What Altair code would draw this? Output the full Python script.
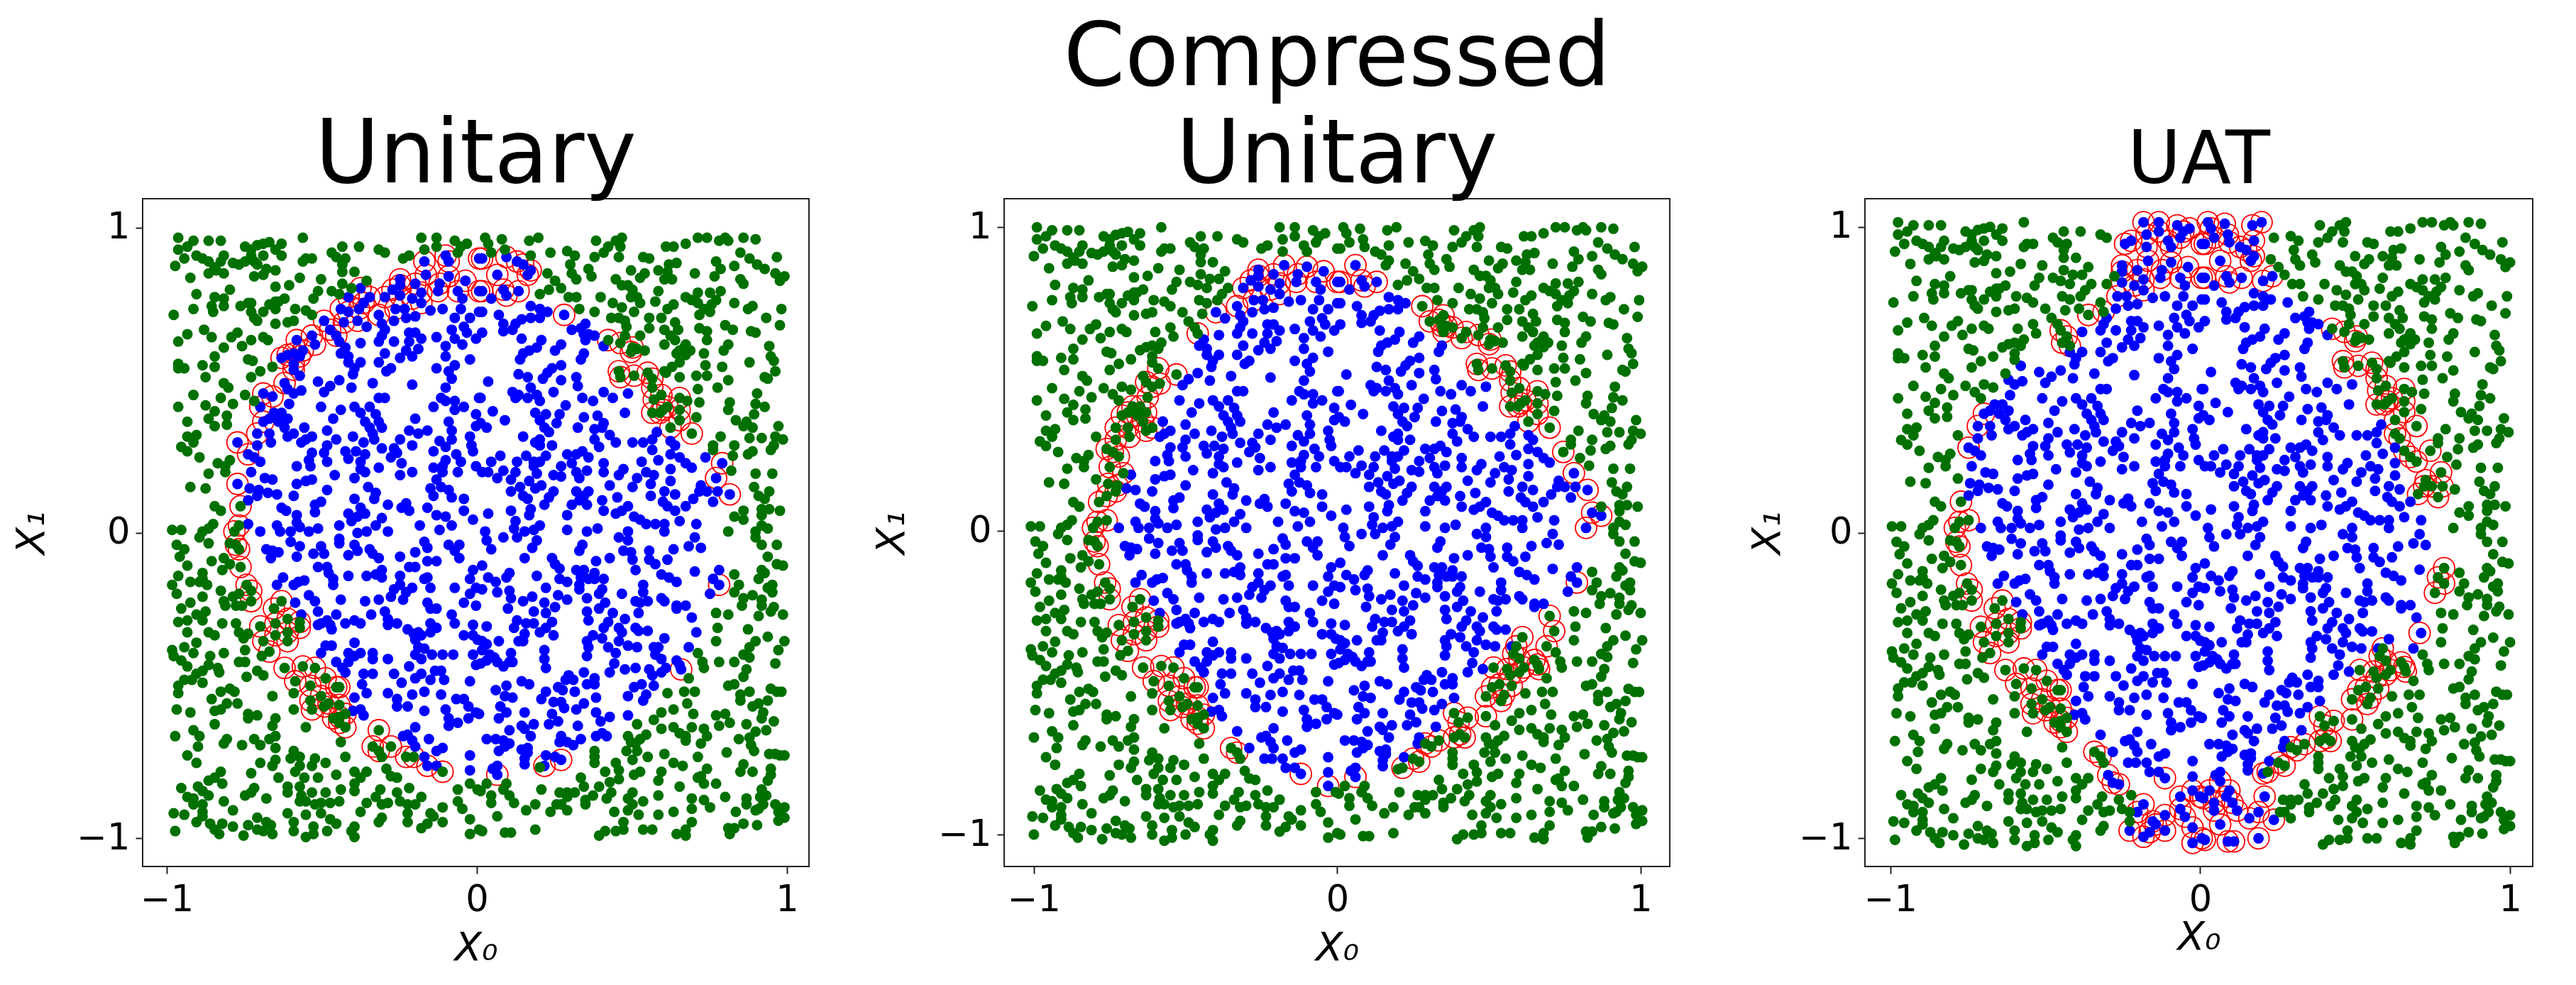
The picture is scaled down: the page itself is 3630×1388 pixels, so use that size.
import math
import altair as alt
import pandas as pd

# Point readings, in hundredths of the X0 / X1 units of the middle panel.
blue_upper_left = [(-31,80),(-40,72),(-37,70),(-32,71),(-33,74),(-28.5,82.5),(-26,86),(-26,84),(-26,80.5),(-27.5,76),(-24.5,76),(-22,79.5),(-21,84.5),(-19,81.5),(-17.5,87.5),(-10,87),(-13,84.5),(-13.5,82),(-7,82),(-4.5,85.5),(0,82),(-5.5,79.5),(-6,76),(-19,78),(-16,75.5),(-12,76),(-21,73.5),(-24,73),(-28,72),(-31,69),(-32,67),(-33,65),(-28,65),(-23,68),(-23,65),(-21,68),(-19,66),(-14,66.5),(-8,73),(-3,73),(-5,70),(-9,69),(-8,66),(-4,68),(-5.5,64),(-1,66),(0,75),(-39,64.5),(-44,63),(-45.5,61),(-43,60),(-43,58),(-39,58),(-41,56),(-41.5,54),(-33,58),(-31,61),(-29,56),(-30.5,55),(-26,59.5),(-24,62),(-22,60),(-20,62.5),(-11,63.5),(-11,60),(-3,59),(-14,56),(-10,55),(-8,57),(-9,52.5),(-22,50.5),(-35,51),(-46,52),(-42,49.5),(-49,50),(-51,48),(-33,46),(-31,46),(-52,43),(-45.5,42),(-41,43),(-39,41),(-36,43),(-34,40.5),(-37.5,38),(-33,38),(-48,39),(-50,35),(-36,36),(-35,34),(-34.5,32),(-32,36),(-21,39),(-23,35),(-20,34),(-17,35),(-15,43),(-12.5,46),(-11,45),(-8,45),(-5,43),(-8,42),(-11,49.5),(0,46),(-1,40.5),(-10,38),(-9,35),(-9,32),(-1,36.5),(-3,33),(-57.5,36),(-55,33),(-57,32),(-58.5,31),(-41.5,33),(-47,32),(-50,30),(-38,31),(-26,32),(-22,30),(-13,31.5),(-11,29.5),(-15,28),(-2.5,30),(-2,28),(-32,29),(-28,29),(-27,27.5),(-29,26),(-37.5,27),(-40.5,28),(-44,28),(-43,25.5),(-51,27.5),(-55,27.5),(-56,25),(-50,24.5),(-39,24.5),(-39,22),(-37.5,21),(-41,19),(-25.5,24),(-33,22.5),(-22,21),(-26,20),(-47.5,20),(-60,23),(-55.5,23),(-55,18.5),(-57,18),(-60,17),(-68,18.5),(-11,25),(-12,23),(-15,22.5),(-6,24.5),(-7.5,27),(-1,23),(-7,21),(-14,18.5),(-12,21),(-36.5,16),(-34,14),(-34.5,12),(-41,12),(-50,15),(-66.5,13.5),(-69.5,14),(-61,13),(-52,11),(-54,10),(-54,7.5),(-16,15.5),(-12.5,16),(-10,15),(-15,13),(-9,12.5),(-5,12),(-5,8),(-30,10),(-25.5,9),(-24,10.5),(-23,8),(-17,9),(-14,6.5),(-11,6),(-2,5),(-39,9),(-43,7),(-37.5,7),(-40,6),(-42,4.5),(-32,5.5),(-34,3),(-30,1),(-37,1),(-40,0.5),(-46,3),(-19.5,3),(-9,3),(-13,1.5),(-65,9),(-63.5,8),(-60,6.5),(-60,4),(-66.5,3),(-59,2.5),(-53,2),(-56,1),(-62,1),(-65.5,1),(-72,1)]
blue_lower_left = [(-70,-5),(-68.5,-8),(-68,-5.5),(-66,-6),(-60,-7.5),(-59,-4),(-62,-2.5),(-54.5,-6.5),(-52,-4),(-51,-6.5),(-46,-1.5),(-46,-3),(-41,-3.5),(-40,-5.5),(-43,-7),(-36,-5),(-33,-8),(-35,-6.5),(-26,-7.5),(-21,-6),(-18,-2.5),(-17,-4.5),(-17,-9),(-14,-9),(-10,-3.5),(-6.5,-3.5),(-8,-5.5),(-6.5,-8),(-53,-11),(-50,-11),(-49.5,-13),(-48,-15),(-48,-17),(-43,-14),(-37,-14),(-34,-13.5),(-32,-12),(-32,-14.5),(-26,-14),(-23,-11),(-21,-11),(-18,-15),(-17,-14.5),(-16,-18),(-64.5,-14.5),(-66.5,-17),(-61,-17),(-59.5,-16),(-57.5,-15.5),(-56,-20.5),(-54,-22.5),(-45.5,-22),(-37.5,-22.5),(-33,-22),(-29,-21),(-28,-18.5),(-26,-17),(-24,-19.5),(-22,-18),(-25,-22),(-8,-18),(-5,-23),(-3,-20),(-1,-24),(-1,-18),(-2,-12),(-3,-15),(-60.5,-23),(-58.5,-27),(-53,-26),(-53,-30.5),(-52,-30),(-50,-29),(-47,-27),(-49,-30.5),(-48.5,-32),(-44,-30),(-41,-29),(-39,-30),(-35.5,-27),(-31,-26),(-30,-28.5),(-27,-30),(-30,-30.5),(-23.5,-32),(-21.5,-33.5),(-20,-33),(-21,-35.5),(-19,-34),(-17,-23),(-16,-25),(-14,-25),(-16,-30),(-14,-31.5),(-16,-33),(-9,-27),(-8,-30),(-2,-30.5),(-5,-34),(-2,-34),(-0.5,-35.5),(-50.5,-37.5),(-48.5,-37.5),(-52,-40),(-41,-36.5),(-43,-40),(-41,-41),(-39,-40),(-35,-40),(-35,-42),(-30,-42),(-20,-38),(-18,-38.5),(-21,-40.5),(-19,-42),(-15.5,-40.5),(-12,-40.5),(-8.5,-40.5),(-2,-40.5),(-1,-44),(-23,-44.5),(-47,-43),(-43,-43),(-45,-45),(-44,-46.5),(-38,-47),(-35,-47),(-28,-47),(-25.5,-50),(-21,-48.5),(-19,-47),(-16,-49),(-14.5,-46),(-12.5,-46),(-11.5,-49),(-3,-49.5),(-38.5,-50.5),(-37,-53.5),(-41,-55),(-30,-53.5),(-27,-55.5),(-27,-58),(-22,-54),(-23.5,-58),(-18,-53),(-12.5,-54),(-18,-59.5),(-7.5,-55.5),(-5,-55.5),(-3.5,-58),(-1,-60),(-11,-59),(-10,-62),(-10,-64.5),(-7,-63.5),(-3.5,-62),(-41.5,-59.5),(-39,-59),(-38,-61),(-33,-66),(-29,-71.5),(-21,-65),(-25,-68),(-23.5,-67.5),(-22,-69.5),(-21,-71.5),(-16.5,-69),(-12,-72),(-14,-73),(-24,-75),(-21.5,-75),(-18,-75),(-17,-78),(-14,-78),(-3,-74.5),(-3,-79.5),(-12,-80),(-3,-84)]
blue_upper_right = [(6,87.5),(1,82),(8,82.5),(9,80.5),(13,82),(4,79.5),(1,75),(6.5,74),(17,77),(20,76),(22.5,75),(20,73),(17,73),(14,72.5),(12,71),(8,71),(8,68.5),(11,69),(1,68),(14,66),(20.5,65.5),(19,63),(16.5,62),(14.5,61),(13.5,59),(25,62),(27,64),(34.5,61),(33.5,59),(27,57),(24,56),(22.5,54.5),(21,52.5),(13,54),(16,53),(3,51.5),(27,52),(32,53),(32.5,50),(17,49.5),(11,48),(13,47),(12,46),(16,46),(19,47),(20,45),(24.5,48),(41,48),(44,46),(49,47.5),(0.5,46),(34,46),(37.5,45),(28.5,43.5),(4.5,41.5),(8.5,38.5),(48,41),(18.5,41),(22,40.5),(20,38.5),(26.5,40.5),(25.5,37.5),(34.5,39.5),(39,40),(41,37.5),(32.5,36),(38,35.5),(40.5,36),(21.5,36),(23,34.5),(2.5,36),(0.5,37.5),(14.5,33),(20,32),(18.5,31),(20,30),(24,30),(43,33.5),(38,32),(45,31),(39.5,29.5),(50.5,31),(54,31),(58.5,34.5),(57,32),(57,28.5),(63,31.5),(64.5,30),(34,28),(32,27),(36,26),(29,27),(30.5,24),(7,26.5),(4,24.5),(12.5,24.5),(15.5,26.5),(18,24.5),(22,26.5),(20,24.5),(18,23),(19,20.5),(27,23),(24.5,20),(27,19.5),(41,24),(41,21),(53.5,24.5),(59,25),(63,27),(66,26),(68,24),(70,22.5),(63,22),(63,18),(3,21),(1,21),(6,19),(8,21.5),(12,21),(10.5,18.5),(16.5,18),(13.5,16),(10.5,14.5),(14.5,13),(16,12),(18.5,15.5),(20.5,16.5),(24.5,14.5),(23,12.5),(21.5,10),(33,19),(32,21),(35.5,21.5),(32,14.5),(36,14.5),(34.5,13),(33,11.5),(30.5,10),(35.5,10),(29,6.5),(40.5,11.5),(41,8),(43,16.5),(45.5,12.5),(46,20),(47.5,22),(50.5,16),(52,19),(55,21),(57.5,20),(56.5,17),(56.5,13),(61,14.5),(64.5,13.5),(60.5,11),(62,9.5),(64.5,8),(68,9.5),(70.5,12),(66,4.5),(73,16.5),(72.5,14.5),(75,14.5),(78,19),(78.5,14.5),(77,11),(82.5,13.5),(84,6),(87,5),(71.5,3.5),(3,7),(10.5,8),(12,4.5),(16.5,6.5),(17,8.5),(20,3),(18,1.5),(15,1),(29,1.5),(35.5,1),(39,2),(45,7),(47,8),(49,9.5),(51,6),(53,5),(55,3.5),(58,3.5),(61,3.5),(61,1),(49,1),(11.5,2),(2,1),(82,1)]
blue_lower_right = [(2.5,-2),(4,-5),(8,-1),(12.5,-1),(19,-2),(17.5,-4.5),(15,-8),(24,-8),(25,-10),(26.5,-11.5),(1,-10.5),(34,-3.5),(33,-5.5),(46,-1),(49,-2),(47.5,-5.5),(50,-6),(50.5,-8.5),(51.5,-12),(43,-8),(38.5,-9),(56,-5.5),(56,-8.5),(58,-10),(62,-8.5),(64,-5),(69,-4),(73,-4.5),(71,-1),(71,-12.5),(79,-12),(77,-15),(79,-17),(76,-20),(32,-12),(34.5,-12),(33.5,-14.5),(38,-13),(38,-15),(41,-15),(36,-15),(33,-17),(33,-18.5),(26.5,-15),(29,-16),(19,-14),(10,-13),(9,-14.5),(3,-14.5),(5.5,-16),(6,-19.5),(1,-18.5),(10,-19),(10.5,-21.5),(22,-18),(26,-20.5),(29,-22),(35.5,-21.5),(40.5,-18.5),(39.5,-20),(41.5,-23),(39.5,-25),(47,-20),(54,-17),(54,-19.5),(51.5,-22.5),(55.5,-22.5),(53,-23),(60,-21.5),(61,-22.5),(65,-24),(65,-25),(68,-24),(60,-13.5),(62.5,-14.5),(65,-16),(14.5,-22.5),(17.5,-21),(9.5,-25),(18,-26),(21.5,-23),(25,-24.5),(22,-26.5),(35.5,-26),(36,-29),(44,-26.5),(52.5,-26.5),(48,-28.5),(42.5,-29.5),(41,-31.5),(46,-31.5),(47,-33),(51.5,-31.5),(55.5,-32.5),(52.5,-32.5),(12.5,-29),(15.5,-30),(18,-30),(11.5,-31.5),(24,-29.5),(22,-31.5),(20,-33),(24.5,-34),(15,-33.5),(2.5,-31),(13,-36),(14.5,-36),(6.5,-36),(1,-36),(2.5,-37),(1,-39),(3.5,-40.5),(5,-41.5),(6,-43),(8,-44.5),(10,-43),(11,-43),(10.5,-40),(0.5,-43.5),(2.5,-42.5),(37.5,-34),(35.5,-36),(36,-38),(35.5,-41),(40.5,-35),(46,-36),(49,-37.5),(52,-38),(42.5,-38),(45,-40),(44.5,-43.5),(43,-46.5),(48,-45.5),(57.5,-38),(21.5,-39),(21.5,-42),(22,-45),(34.5,-46.5),(29.5,-47.5),(28.5,-49),(31,-49),(38,-48.5),(35.5,-50.5),(38,-50.5),(14,-49.5),(16.5,-50.5),(9,-51),(5.5,-52.5),(8.5,-54.5),(11,-55),(26,-51.5),(27.5,-52.5),(22,-53),(31.5,-53),(20.5,-55.5),(38.5,-55),(24.5,-56.5),(27,-56.5),(28,-58.5),(32,-59),(34.5,-57),(7,-58),(9,-60),(15,-60),(6.5,-62),(0,-60.5),(24,-60.5),(26,-63),(23,-64),(18,-64),(14,-64.5),(15,-65.5),(10,-66),(17,-68),(32.5,-64.5),(2.5,-69),(5.5,-69),(8,-69.5),(10,-70.5),(8.5,-71.5),(6.5,-73),(14,-72.5),(16,-72),(16,-73.5),(15,-75.5),(15,-77.5),(27,-68),(26.5,-70),(22,-74.5),(6,-78),(4.5,-79),(6,-81)]

green_upper_left = [(-99,100),(-94,99),(-89,99),(-85,99),(-58,100),(-96,97),(-99,96),(-97,93),(-100,90.5),(-93,94),(-91,93),(-89,92),(-84,94),(-85,92),(-87,90),(-84,88),(-89,88),(-86.5,89),(-95,86.5),(-77,97),(-75,96),(-73,97.5),(-71,98),(-69,98.5),(-65,98),(-67,96),(-65,94),(-71,94),(-75,94),(-74,92),(-73,91),(-81,91.5),(-79,91),(-77,92),(-67,89),(-70,89.5),(-71,87.5),(-74,87),(-58,92),(-57,93),(-55,93),(-48.5,95),(-47,93.5),(-44,93),(-45,97),(-39.5,97),(-33,96),(-31,95),(-25,93),(-23,94),(-19,100),(-18,96),(-18,92),(-14,100),(-14,97),(-11,94),(-10,92),(-8,99),(-4,98),(-6,97),(-7,95),(0,93),(-45,91),(-45,88.5),(-41,88.5),(-52,86),(-59,86.5),(-62.5,84),(-67,83.5),(-82,82.5),(-93,81),(-87,80),(-84,79.5),(-84,77),(-88,77),(-87.5,75),(-94,76),(-100.5,74),(-45,84.5),(-37,85.5),(-39,83),(-42,83),(-43,80),(-48.5,82),(-46,81),(-53,82),(-54.5,79.5),(-36,80),(-38,78),(-39.5,76),(-43,75),(-45.5,76),(-44.5,71.5),(-64,79.5),(-66,78.5),(-67,78.5),(-69,77.5),(-67,76),(-71,75),(-75,78),(-78.5,77),(-76,78),(-75,75),(-74,73),(-73,72),(-60.5,76),(-57,75.5),(-55,74),(-51,72),(-61,72),(-63,71.5),(-67,71),(-90.5,69),(-88,66.5),(-79.5,68),(-81.5,66.5),(-96,67.5),(-99,65),(-71,66.5),(-69.5,65.5),(-75,65.5),(-78,63.5),(-84,63),(-55,67),(-60,65.5),(-54,64),(-49,69),(-47,67),(-46,65),(-58,62),(-61,61),(-63,60.5),(-65,59.5),(-59,60),(-61,57.5),(-61,55.5),(-59,53.5),(-68,56.5),(-72,55),(-75,53),(-87,60),(-87,56.5),(-91,57),(-99,57.5),(-99,56),(-97,56),(-90,53),(-76,59),(-74.5,58.5),(-84,51),(-82.5,49.5),(-94,47),(-85,46),(-81,44),(-99,43),(-90,43.5),(-87,41.5),(-89,39),(-83,40),(-83,37),(-87,36.5),(-96,38),(-77,47),(-74,45),(-72,43),(-71,47.5),(-68,46.5),(-64,51),(-63,49),(-61,47.5),(-58.5,48.5),(-62.5,44),(-53,51.5),(-67.5,41),(-65,41),(-63,39),(-69,39),(-71,38),(-66,38),(-64,36),(-61,34),(-63,33),(-73,34),(-69,34),(-68.5,31),(-73,30),(-79.5,31),(-93,33.5),(-96,33),(-94,31),(-98,29.5),(-96,28),(-92,26),(-76,27),(-74,26),(-72,24.5),(-82,25),(-86,24),(-83.5,23),(-83.5,21),(-89,20.5),(-95,16),(-90,15.5),(-79.5,17),(-75,21),(-70.5,19),(-75.5,15.5),(-72.5,15),(-73,13),(-76,11.5),(-78.5,9.5),(-87,9.5),(-85,8),(-101,1.5),(-98,1.5),(-87.5,3.5),(-89,2),(-91,1),(-76,3.5),(-79,3),(-80.5,1)]
green_lower_left = [(-99.5,-3.5),(-97,-5),(-98.5,-7.5),(-96,-10.5),(-88,-9),(-92,-1),(-89,-3),(-84,-8),(-82,-10),(-84.5,-12),(-82,-3),(-80,-3.5),(-79,-5),(-78.5,-11),(-91,-13),(-99,-14),(-101,-17),(-99.5,-20),(-95,-16),(-92,-16),(-89.5,-17),(-91,-15),(-85,-19),(-84,-22.5),(-83.5,-24),(-91,-21),(-95,-23),(-98,-25),(-90,-26),(-93,-27),(-91,-29),(-99,-29.5),(-96,-29),(-96,-33),(-89,-33),(-87,-34),(-84.5,-30),(-76.5,-17),(-75,-19),(-79,-20),(-81,-21),(-75,-22.5),(-80,-24),(-78,-24),(-65,-22.5),(-67.5,-25),(-63,-28.5),(-67,-30),(-59,-29.5),(-72,-31),(-80,-30),(-79,-33),(-76,-33.5),(-77.5,-35),(-59,-31.5),(-63,-33),(-67,-34),(-71,-36),(-63,-36),(-77,-39),(-69,-39.5),(-71.5,-41),(-101,-39),(-97,-38),(-93,-36.5),(-94,-40),(-84,-40),(-100.5,-41),(-98,-42.5),(-96,-44.5),(-88.5,-41),(-89,-44),(-86,-45),(-85.5,-46.5),(-91,-46),(-93,-47),(-94.5,-49),(-91,-50),(-97,-49),(-99,-51),(-99,-53.5),(-79,-43),(-77,-43),(-76.5,-48),(-73,-46),(-71,-47.5),(-64,-45),(-58,-44.5),(-54,-45),(-60.5,-49.5),(-50.5,-48.5),(-55.5,-51),(-47,-51.5),(-46,-51.5),(-52,-54.5),(-55.5,-56),(-55,-59),(-51,-58),(-49.5,-57),(-46,-57.5),(-48,-62),(-46,-61.5),(-44,-60.5),(-44,-65),(-46,-63.5),(-61,-53.5),(-61,-59),(-57,-65),(-68,-54.5),(-85,-53),(-82,-52),(-80.5,-53),(-88,-55.5),(-83,-57),(-79.5,-57),(-87,-59.5),(-85,-59),(-99.5,-59),(-95,-60),(-76,-60.5),(-76,-62),(-73,-61),(-67,-62),(-68,-64.5),(-87,-64),(-100,-68),(-94,-66),(-92,-68),(-92.5,-71.5),(-83,-69),(-84,-70.5),(-78,-71),(-74,-69),(-72,-71),(-69,-69),(-67,-68),(-67,-72),(-45.5,-70),(-96,-74.5),(-93,-77),(-35,-71.5),(-33,-73),(-32,-75),(-44,-75),(-61,-73),(-62,-75.5),(-59,-75),(-59,-78),(-60.5,-80),(-72,-77),(-67,-76),(-68,-78),(-54,-75.5),(-55,-78),(-50.5,-77),(-30.5,-79),(-29,-81.5),(-27,-82),(-41,-80),(-37,-80),(-39,-82),(-41,-84),(-41,-86.5),(-47,-81),(-53,-82),(-57.5,-82),(-66,-82),(-75,-80.5),(-85,-80),(-87,-82),(-89,-83),(-84.5,-84),(-98,-85.5),(-92.5,-85),(-91,-86.5),(-89,-88),(-96,-88.5),(-94,-89),(-94,-91),(-91,-91),(-91,-93.5),(-91,-95),(-74,-85.5),(-75,-87),(-77,-88),(-84,-90),(-70,-89),(-81,-93),(-63,-85),(-63,-87),(-59,-85),(-58.5,-88),(-59,-90),(-55,-87),(-57,-90),(-54,-91),(-50.5,-87),(-52,-90.5),(-49,-90.5),(-46,-90),(-45.5,-86),(-52,-94),(-57,-94.5),(-63,-94),(-32.5,-86),(-34,-88.5),(-32,-91),(-30,-90.5),(-27,-87),(-26,-90),(-23,-85.5),(-23.5,-91),(-19,-88.5),(-21,-91),(-23.5,-94),(-23.5,-97),(-37,-90.5),(-39,-93.5),(-12,-92),(-16,-94),(-15,-95),(-12,-97),(-17,-97.5),(-19,-99),(-32,-95.5),(-33,-97),(-7,-86),(-7,-90),(-5.5,-92.5),(-3,-96),(-3,-101),(-0.5,-86),(0,-99.5),(-100.5,-94),(-97,-94.5),(-93,-97),(-100,-100),(-88.5,-97.5),(-84.5,-97.5),(-87,-99.5),(-85.5,-101),(-81,-98.5),(-76,-98),(-77.5,-101.5),(-73,-95.5),(-73,-99.5),(-71,-100),(-70,-97),(-68.5,-98),(-68,-101),(-61,-97),(-61,-100),(-57,-102),(-54.5,-98.5),(-54.5,-101),(-49,-96),(-47,-97.5),(-50,-100),(-41,-98.5),(-42,-100),(-41,-102)]
green_upper_right = [(2,100),(3,98),(4,95),(1,93),(7.5,99.5),(8.5,96),(9,93.5),(12.5,92),(14.5,91),(17,94),(16.5,99),(19.5,100),(16,87.5),(17,89),(23.5,95),(22.5,88),(20,81),(23,82.5),(25,85.5),(27,83),(29,95.5),(31.5,94),(30,91),(30.5,88),(32,86),(36,89.5),(37,87),(29.5,80),(32,80),(33,76),(38.5,99),(47,100),(45,99),(46.5,97),(42.5,97),(41,95),(38,93.5),(46,93.5),(54,93.5),(56,93),(50,89),(54.5,88),(53,86.5),(45,86),(47,84),(49,84),(50.5,82.5),(50,80),(52,80),(53,78),(40,80),(44,78),(47,76.5),(51,75),(38,75),(61.5,97),(64,97),(68,98),(72,100),(75,100),(79,99),(81,100),(82,99),(87,100),(91,99.5),(86,95),(89,93),(91.5,91),(94,89.5),(84,90.5),(98,93.5),(97.5,88),(99,85.5),(100.5,87),(78,92),(79.5,89.5),(77.5,87),(71,88),(65,91.5),(62.5,91),(59,89),(63.5,86),(61,86),(62,88.5),(86,86),(87,84.5),(59,82),(58,78.5),(68,80),(70,79),(72,81.5),(76,81.5),(79.5,82),(78,79),(76.5,77.5),(72,78),(74,76),(76,75),(72.5,74),(64,77.5),(62,76),(60,73),(56,73),(56,69.5),(64.5,71.5),(65.5,69),(61,69),(63,67),(64.5,65.5),(61,64),(68,64),(84,78),(90,77),(88.5,76),(99.5,76),(94.5,73),(99,70.5),(81,70.5),(83.5,69),(89.5,68.5),(91,68),(72.5,69.5),(75,68.5),(75,65.5),(82,64),(80.5,62),(95.5,63.5),(74,61),(96,60),(97,58.5),(43.5,73),(46,73),(48,72),(48.5,70),(48,67),(46.5,64.5),(53,67),(42.5,65.5),(41,63.5),(28,74),(30.5,69),(33.5,69.5),(35,71),(34.5,67.5),(36,67.5),(35,65.5),(38,67),(50.5,63),(50,61.5),(52,62.5),(54.5,62),(66,62),(65,61),(67.5,63),(69.5,62),(68,60.5),(66,58),(63.5,56.5),(61,55),(61.5,54.5),(66,53),(74.5,57),(80,56.5),(89,58),(97.5,55),(94,53),(95,52.5),(71.5,53.5),(75,53.5),(82,52),(78.5,49.5),(72,49),(46,55),(46.5,53),(51,53.5),(55.5,54.5),(57,52.5),(57,49.5),(60,47),(57.5,45.5),(66,46),(68.5,45),(72.5,44.5),(91.5,47.5),(82.5,44.5),(82,42),(91,44),(94,43),(90.5,40.5),(84.5,38.5),(88,38),(87,36.5),(90,36),(89,32.5),(93,32.5),(98.5,36.5),(97.5,33),(100,32),(97,30),(96,28.5),(71.5,39.5),(79.5,33),(77,30),(77,28.5),(84,30),(83.5,26.5),(90,28),(88.5,27),(62,43),(60.5,42),(57,41),(59.5,41),(66,42),(66,38.5),(63,36),(70,34),(74.5,26),(80,24),(83,21.5),(91,20.5),(96.5,20.5),(90.5,16),(95.5,14.5),(92,13),(94,12),(93,8.5),(95.5,8.5),(99,8),(93,6.5),(87,8),(93,3),(95,2),(91,1)]
green_lower_right = [(91,-1),(93,-3.5),(98,-3.5),(95,-7.5),(98,-10),(100,-10.5),(93,-12),(84,-13.5),(94,-13),(92,-15),(85.5,-17),(84,-19.5),(96.5,-17),(95,-18),(96.5,-19.5),(90,-20.5),(87,-21.5),(86.5,-24),(93,-22),(93,-24),(97,-24.5),(96,-26),(92,-27.5),(100,-27),(78,-26.5),(82,-27),(70,-28),(71.5,-33),(78.5,-31.5),(78,-36),(88.5,-32),(95,-34.5),(100.5,-36),(91,-36),(89,-38),(98.5,-39),(87,-40.5),(89,-41.5),(69,-38),(72,-40),(73.5,-43),(74,-45),(79,-43),(84,-43),(97.5,-43.5),(88,-45.5),(87,-48),(69,-48.5),(61,-35),(59,-38),(58,-40.5),(60,-42),(61.5,-45),(60,-46.5),(65,-42.5),(66,-44),(66.5,-45.5),(51.5,-45),(56,-45.5),(57,-47.5),(53.5,-50.5),(51,-51.5),(57.5,-51),(55,-54),(49,-54.5),(54,-56),(62,-53.5),(67.5,-53),(71,-53),(68.5,-57),(82,-51),(84,-50.5),(86,-54),(86,-56),(89,-53),(96,-52),(98,-53),(99.5,-53),(95,-56),(92,-57),(90,-58),(93.5,-60),(93,-62),(49,-61),(52,-64),(57.5,-62.5),(60,-60),(64,-59),(70.5,-60.5),(70,-65),(60,-65.5),(64,-65),(66,-67),(68,-68),(68,-69.5),(78,-61),(81,-60.5),(79,-64.5),(82.5,-63.5),(88,-64),(91,-66.5),(94.5,-66),(97,-63),(74,-65.5),(75,-68),(73,-70.5),(89,-68.5),(85.5,-69),(89.5,-71),(90.5,-73),(81.5,-73.5),(72,-75),(38.5,-60),(40,-63),(43,-61.5),(38.5,-68),(40.5,-67),(42,-68),(33.5,-69),(29,-70),(31,-71),(25,-75),(27,-76),(20,-78.5),(21.5,-78),(49,-68),(55,-67.5),(53,-69),(51.5,-70.5),(50,-70),(48.5,-73),(52,-73),(55.5,-75),(50.5,-76),(61,-74),(64,-77),(67,-78),(38,-73),(38,-75),(38,-77),(45,-77),(41.5,-80),(46,-79.5),(43,-83.5),(46,-82.5),(51,-81),(53,-80),(60,-80),(59,-83),(33.5,-82),(39.5,-85),(66,-85),(59,-88),(75,-79),(73,-81.5),(72,-82),(74,-84),(78,-84),(87,-77.5),(86,-80),(90,-80),(96,-79),(96,-81),(95,-83),(95.5,-74),(99,-74.5),(100.5,-74.5),(97.5,-74),(93,-86),(88,-89),(92.5,-88.5),(94.5,-88),(81,-88.5),(70,-89),(74,-89.5),(76,-92),(70,-92.5),(64,-93.5),(59,-94.5),(88,-91),(93.5,-91),(92,-92.5),(91,-93),(84.5,-93.5),(97.5,-91),(100.5,-92),(98.5,-93.5),(100.5,-95.5),(98.5,-96.5),(91.5,-98),(87,-97.5),(84,-99),(82,-99),(82.5,-101),(49,-89),(50.5,-87),(54,-90),(50.5,-91),(49,-93),(44.5,-93.5),(52.5,-94.5),(47.5,-97),(47.5,-99.5),(45,-100),(41.5,-100),(39.5,-101.5),(54,-99.5),(57,-99.5),(65,-101),(68,-101.5),(70,-97),(68,-99.5),(2.5,-84),(0.5,-86.5),(9,-84),(8,-86),(10,-88),(11.5,-90.5),(4,-88),(4,-90.5),(6,-95),(20.5,-86),(18.5,-91),(15.5,-93),(23.5,-93.5),(18.5,-99.5),(8.5,-100.5),(10.5,-100.5),(1,-100),(26.5,-87),(29,-87),(31.5,-87),(34.5,-85),(27,-91),(29,-93),(25.5,-91),(29,-88.5),(37.5,-88),(35,-91),(35,-89.5),(42,-89),(43.5,-87)]

# Per-panel class edge: (from angle, to angle, radius), angles in degrees; None keeps the middle panel's class.
edge_unitary = [(0,8,81),(8,20,84),(20,57.1,None),(57.1,72,80),(72,78,82),(78,105,95),(105,125,92),(125,138,89),(138,150,86),(150,172,85.6),(172,178,78),(178,243,None),(243,248,70),(248,255,75),(255,270,80.5),(270,280,None),(280,360,81)]
edge_compressed = [(0,360,None)]
edge_uat = [(0,5,80),(5,30,70),(30,57.1,None),(57.1,70,80),(70,78,87),(78,107.5,120),(107.5,112,85),(112,122,76),(122,135,73.5),(135,172,81),(172,248,None),(248,256,88),(256,285,120),(285,330,None),(330,343,80),(343,352,74),(352,360,80)]
extra_rings_unitary = [(28,74),(-17,-78)]
extra_rings_compressed = []
extra_rings_uat = [(71,-33)]

BLUE_RING = 80
GREEN_RING = 81


def rows(scale_x, shift_x, scale_y, shift_y, edges, extra):
    out = []
    blue = blue_upper_left + blue_lower_left + blue_upper_right + blue_lower_right
    green = green_upper_left + green_lower_left + green_upper_right + green_lower_right
    for base, pts in (("b", blue), ("g", green)):
        for x, y in pts:
            r = math.hypot(x, y)
            ang = math.degrees(math.atan2(y, x)) % 360
            cls = base
            for a0, a1, lim in edges:
                if a0 <= ang < a1 and lim is not None:
                    cls = "b" if r < lim else "g"
            ring = (cls == "b" and r > BLUE_RING) or (cls == "g" and r < GREEN_RING)
            out.append({"x": shift_x + scale_x * x / 100, "y": shift_y + scale_y * y / 100, "c": cls, "ring": ring})
    for x, y in extra:
        out.append({"x": shift_x + scale_x * x / 100, "y": shift_y + scale_y * y / 100, "c": "none", "ring": True})
    return pd.DataFrame(out)


def panel(df, title, title_size, title_offset, line_h, xdom, ydom, w, h, ytitle_x, xtitle_pad):
    xs = alt.Scale(domain=xdom, nice=False, zero=False)
    ys = alt.Scale(domain=ydom, nice=False, zero=False)
    xa = alt.Axis(values=[-1, 0, 1], grid=False, domain=False, tickSize=10, tickWidth=2, tickColor="#222",
                  labelFontSize=51, labelFont="DejaVu Sans", labelColor="#000", labelPadding=12, labelFlush=False,
                  title="X₀", titleFontSize=56, titleFont="DejaVu Sans", titleFontStyle="italic", titleFontWeight="normal",
                  titleColor="#000", titlePadding=xtitle_pad, format="d")
    ya = alt.Axis(values=[-1, 0, 1], grid=False, domain=False, tickSize=10, tickWidth=2, tickColor="#222",
                  labelFontSize=51, labelFont="DejaVu Sans", labelColor="#000", labelPadding=8,
                  title="X₁", titleFontSize=56, titleFont="DejaVu Sans", titleFontStyle="italic", titleFontWeight="normal",
                  titleColor="#000", titleX=ytitle_x, format="d")
    enc = dict(x=alt.X("x:Q", scale=xs, axis=xa), y=alt.Y("y:Q", scale=ys, axis=ya))
    rings = alt.Chart(df[df.ring]).mark_point(filled=False, size=900, stroke="#ff0000", strokeWidth=1.8, opacity=1).encode(**enc)
    blues = alt.Chart(df[df.c == "b"]).mark_circle(size=225, color="#0000ff", opacity=1).encode(**enc)
    greens = alt.Chart(df[df.c == "g"]).mark_circle(size=225, color="#007000", opacity=1).encode(**enc)
    return alt.layer(rings, blues, greens).properties(
        width=w, height=h,
        title=alt.TitleParams(text=title, fontSize=title_size, font="DejaVu Sans", fontWeight="normal", color="#000",
                              anchor="middle", offset=title_offset, lineHeight=line_h, baseline="alphabetic"),
    )


p1 = panel(rows(.98, .007, .972, -.005, edge_unitary, extra_rings_unitary), "Unitary", 124, -101, 137,
           [-1.078, 1.071], [-1.093, 1.095], 939, 941, -128, 15)
p2 = panel(rows(1, 0, 1, 0, edge_compressed, extra_rings_compressed), ["Compressed", "Unitary"], 124, -101, 137,
           [-1.098, 1.096], [-1.105, 1.094], 938, 941, -130, 15)
p3 = panel(rows(.99, .005, 1.01, .005, edge_uat, extra_rings_uat), "UAT", 103, -81, 137,
           [-1.082, 1.073], [-1.092, 1.092], 941, 941, -109, 0)

chart = alt.hconcat(p1, p2, p3, spacing=275, bounds="flush").properties(
    padding={"left": 7, "top": 12, "right": 0, "bottom": 0}, background="white"
).configure_view(stroke="#222", strokeWidth=2, fill="white")
chart.save("out.html", embed_options={"renderer": "svg", "actions": False})
